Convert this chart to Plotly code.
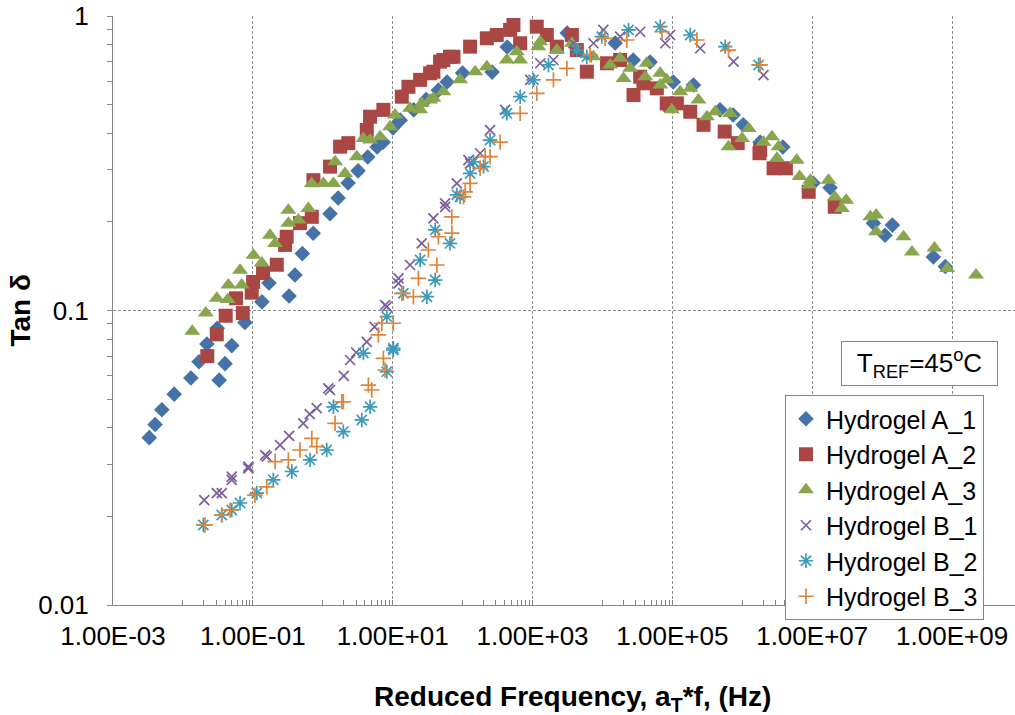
import plotly.graph_objects as go

# ---- data (reduced frequency in Hz, tan delta) ----
a1_f = [3.3e-3, 4.0e-3, 5.0e-3, 7.5e-3, 1.3e-2, 1.7e-2, 2.2e-2, 3.1e-2, 3.3e-2, 4.0e-2, 5.0e-2, 7.7e-2,
        0.135, 0.17, 0.33, 0.40, 0.51, 0.73, 1.27, 1.66, 2.3, 3.2, 4.4, 6.0, 7.3, 10.1, 12.8, 20, 30, 45,
        60, 100, 264, 434, 3130, 1.52e4, 2.75e4, 4.8e4, 1.03e5, 2.0e5, 4.8e5, 7.4e5, 1.03e6, 1.8e6, 3.8e6,
        1.03e7, 1.8e7, 7.5e7, 1.1e8, 1.4e8, 5.4e8, 8.0e8]
a1_t = [0.037, 0.041, 0.046, 0.052, 0.059, 0.067, 0.077, 0.087, 0.058, 0.066, 0.076, 0.091,
        0.107, 0.124, 0.112, 0.132, 0.156, 0.183, 0.213, 0.241, 0.271, 0.298, 0.332, 0.359, 0.373, 0.417,
        0.443, 0.48, 0.52, 0.56, 0.597, 0.64, 0.645, 0.785, 0.876, 0.81, 0.709, 0.698, 0.597, 0.583, 0.48,
        0.461, 0.427, 0.373, 0.359, 0.271, 0.261, 0.198, 0.180, 0.195, 0.152, 0.141]

a2_f = [0.0223, 0.0305, 0.0409, 0.0575, 0.0718, 0.0964, 0.101, 0.140, 0.220, 0.289, 0.305, 0.473,
        0.697, 0.735, 1.27, 1.77, 2.32, 4.26, 4.75, 7.36, 13.5, 16.8, 24.7, 34.3, 38.2, 47.6, 53, 66, 74,
        128, 222, 308, 478, 533, 665, 1150, 1600, 2230, 3650, 4300, 5980, 1.16e4, 1.79e4, 2.78e4, 3.46e4,
        3.86e4, 6.0e4, 8.3e4, 9.3e4, 1.16e5, 1.8e5, 2.79e5, 5.6e5, 8.6e5, 1.76e6, 1.8e6, 2.8e6, 4.2e6,
        8.9e6, 2.1e7]
a2_t = [0.070, 0.083, 0.096, 0.110, 0.098, 0.115, 0.125, 0.134, 0.143, 0.167, 0.178, 0.198,
        0.208, 0.277, 0.308, 0.360, 0.370, 0.410, 0.455, 0.480, 0.532, 0.575, 0.607, 0.639, 0.647, 0.700,
        0.709, 0.727, 0.727, 0.787, 0.840, 0.862, 0.897, 0.932, 0.808, 0.920, 0.862, 0.787, 0.862, 0.766,
        0.647, 0.691, 0.709, 0.539, 0.622, 0.591, 0.568, 0.505, 0.499, 0.505, 0.473, 0.427, 0.405, 0.370,
        0.342, 0.351, 0.304, 0.304, 0.253, 0.225]

a3_f = [0.0136, 0.0212, 0.0305, 0.0438, 0.0447, 0.0693, 0.0656, 0.102, 0.134, 0.176, 0.208, 0.322,
        0.322, 0.448, 0.622, 0.697, 1.02, 1.42, 1.50, 2.08, 3.06, 3.81, 4.75, 6.6, 9.2, 10.8, 17.7, 24.7,
        26, 34.3, 38.2, 53, 92, 151, 222, 429, 596, 665, 1210, 1290, 2230, 3650, 7430, 1.29e4, 1.79e4,
        2.0e4, 2.49e4, 4.1e4, 4.3e4, 6.7e4, 6.7e4, 8.3e4, 9.8e4, 1.29e5, 1.8e5, 2.36e5, 3.12e5, 4.1e5,
        6.35e5, 6.7e5, 9.9e5, 1.23e6, 2.01e6, 2.65e6, 3.13e6, 3.3e6, 6.0e6, 6.6e6, 9.0e6, 9.4e6, 1.71e7,
        2.1e7, 2.66e7, 3.06e7, 6.8e7, 8.2e7, 8.2e7, 2.02e8, 2.67e8, 5.6e8, 8.5e8, 2.2e9]
a3_t = [0.085, 0.098, 0.110, 0.109, 0.122, 0.122, 0.137, 0.154, 0.145, 0.180, 0.169, 0.219,
        0.198, 0.203, 0.222, 0.270, 0.270, 0.270, 0.320, 0.292, 0.333, 0.384, 0.379, 0.389, 0.421, 0.461,
        0.486, 0.480, 0.505, 0.519, 0.526, 0.553, 0.607, 0.647, 0.673, 0.709, 0.756, 0.709, 0.787, 0.818,
        0.766, 0.808, 0.727, 0.682, 0.718, 0.614, 0.664, 0.622, 0.691, 0.639, 0.583, 0.607, 0.480, 0.553,
        0.568, 0.519, 0.455, 0.473, 0.360, 0.467, 0.384, 0.415, 0.373, 0.389, 0.329, 0.360, 0.324, 0.285,
        0.267, 0.277, 0.277, 0.243, 0.222, 0.237, 0.208, 0.211, 0.185, 0.178, 0.158, 0.163, 0.139, 0.132]

b1_f = [0.0202, 0.0305, 0.0359, 0.0499, 0.0499, 0.0863, 0.0863, 0.150, 0.158, 0.245, 0.33, 0.527,
        0.65, 0.82, 1.20, 1.27, 2.0, 2.46, 3.0, 4.26, 5.5, 7.78, 8.24, 12.1, 12.1, 17.7, 26, 38.2, 56.2,
        56.2, 82.6, 121, 128, 178, 247, 406, 925, 1290, 1990, 3850, 7430, 1.03e4, 1.79e4, 3.46e4, 7.9e4,
        9.3e4, 2.5e5, 7.5e5, 2.01e6]
b1_t = [0.0227, 0.0240, 0.0240, 0.0266, 0.0273, 0.0291, 0.0295, 0.0323, 0.0319, 0.0349, 0.0375, 0.0414,
        0.0445, 0.0466, 0.0544, 0.0537, 0.0600, 0.0679, 0.0720, 0.0783, 0.0880, 0.1044, 0.103, 0.1237,
        0.1286, 0.1427, 0.169, 0.2056, 0.225, 0.231, 0.270, 0.324, 0.316, 0.342, 0.410, 0.480, 0.607,
        0.691, 0.709, 0.808, 0.808, 0.897, 0.851, 0.884, 0.808, 0.862, 0.777, 0.700, 0.630]

b2_f = [0.0196, 0.0359, 0.0499, 0.0656, 0.114, 0.196, 0.361, 0.658, 1.14, 1.42, 1.97, 3.61, 3.81, 4.75,
        8.24, 8.24, 10.2, 10.2, 14.2, 24.7, 30.8, 40.5, 40.5, 66, 82.6, 92, 128, 143, 199, 247, 429, 665,
        1030, 1690, 4300, 5980, 9800, 2.36e4, 6.7e4, 1.8e5, 5.7e5, 1.71e6]
b2_t = [0.0187, 0.0202, 0.0210, 0.0222, 0.0240, 0.0266, 0.0284, 0.0311, 0.0336, 0.0471, 0.0388, 0.0425,
        0.0717, 0.0471, 0.0953, 0.0620, 0.0744, 0.0734, 0.1144, 0.1484, 0.1114, 0.1269, 0.1877, 0.169,
        0.247, 0.2433, 0.292, 0.320, 0.308, 0.379, 0.467, 0.532, 0.607, 0.682, 0.766, 0.727, 0.851, 0.897,
        0.920, 0.862, 0.787, 0.682]

b3_f = [0.0207, 0.0359, 0.0472, 0.107, 0.158, 0.208, 0.322, 0.473, 0.697, 0.82, 1.50, 1.87, 1.97, 4.49,
        5.02, 6.24, 6.98, 7.36, 7.78, 10.2, 13.5, 19.8, 23.3, 32.4, 42.8, 45.1, 70.1, 70.1, 103, 109, 128,
        178, 210, 247, 344, 665, 1150, 1990, 3100, 6670, 1.09e4, 2.23e4, 7.1e4, 2.24e5, 6.35e5, 1.8e6]
b3_t = [0.0187, 0.0202, 0.0210, 0.0236, 0.0252, 0.0307, 0.0311, 0.0336, 0.0368, 0.0345, 0.0414, 0.0490,
        0.0490, 0.0558, 0.0537, 0.0826, 0.0905, 0.0688, 0.0628, 0.0905, 0.1144, 0.1114, 0.1286, 0.1605,
        0.1427, 0.178, 0.183, 0.208, 0.2433, 0.253, 0.270, 0.304, 0.333, 0.333, 0.373, 0.467, 0.546, 0.607,
        0.664, 0.737, 0.840, 0.829, 0.884, 0.829, 0.766, 0.682]

series_names = ["Hydrogel A_1", "Hydrogel A_2", "Hydrogel A_3",
                "Hydrogel B_1", "Hydrogel B_2", "Hydrogel B_3"]

x_tick_vals = [1e-3, 1e-1, 1e1, 1e3, 1e5, 1e7, 1e9]
x_tick_text = ["1.00E-03", "1.00E-01", "1.00E+01", "1.00E+03", "1.00E+05", "1.00E+07", "1.00E+09"]
y_tick_vals = [0.01, 0.1, 1]
y_tick_text = ["0.01", "0.1", "1"]

# ---- styling ----
FONT = "Liberation Sans, Arial, sans-serif"
GRID = "#8c8c8c"
AXIS = "#868686"
styles = [
    dict(symbol="diamond", size=12, color="#4572A7"),
    dict(symbol="square", size=14, color="#AA4643"),
    dict(symbol="triangle-up", size=14, color="#89A54E"),
    dict(symbol="x-thin", size=10, color="rgba(0,0,0,0)", line=dict(color="#7B5E9E", width=1.7)),
    dict(symbol="asterisk", size=12, color="rgba(0,0,0,0)", line=dict(color="#3D9BB8", width=1.7)),
    dict(symbol="cross-thin", size=11, color="rgba(0,0,0,0)", line=dict(color="#E0843A", width=1.7)),
]
data = [(a1_f, a1_t), (a2_f, a2_t), (a3_f, a3_t), (b1_f, b1_t), (b2_f, b2_t), (b3_f, b3_t)]

fig = go.Figure()
for name, (fx, ty), st in zip(series_names, data, styles):
    fig.add_trace(go.Scatter(x=fx, y=ty, mode="markers", name=name, marker=st))

x_minor = [m * 10.0 ** e for e in (-2, 0, 2, 4, 6, 8) for m in range(1, 10)]
y_minor = [m * 10.0 ** e for e in (-2, -1) for m in range(2, 10)]

fig.update_layout(
    width=1015, height=715,
    margin=dict(l=113, r=0, t=16, b=110, autoexpand=False),
    paper_bgcolor="white", plot_bgcolor="white",
    font=dict(family=FONT, size=26, color="black"),
    showlegend=True,
    legend=dict(x=0.745, y=0.3565, xanchor="left", yanchor="top",
                bgcolor="white", bordercolor=AXIS, borderwidth=1,
                font=dict(family=FONT, size=25), tracegroupgap=0, itemwidth=30),
    xaxis=dict(type="log", range=[-3, 9.9], tickmode="array", tickvals=x_tick_vals, ticktext=x_tick_text,
               showgrid=True, gridcolor=GRID, griddash="3px,2px", gridwidth=1,
               showline=True, linecolor=AXIS, linewidth=1, mirror=False, automargin=False,
               ticks="inside", ticklen=5, tickcolor=AXIS, ticklabelstandoff=8,
               minor=dict(tickmode="array", tickvals=x_minor, ticks="inside", ticklen=5,
                          tickcolor=AXIS, showgrid=False),
               zeroline=False, tickfont=dict(size=26)),
    yaxis=dict(type="log", range=[-2, 0], tickmode="array", tickvals=y_tick_vals, ticktext=y_tick_text,
               showgrid=True, gridcolor=GRID, griddash="3px,2px", gridwidth=1,
               showline=True, linecolor=AXIS, linewidth=1, automargin=False,
               ticks="outside", ticklen=5, tickcolor=AXIS, ticklabelstandoff=13,
               minor=dict(tickmode="array", tickvals=y_minor, ticks="outside", ticklen=5,
                          tickcolor=AXIS, showgrid=False),
               zeroline=False, tickfont=dict(size=26)),
)

fig.add_annotation(text="<b>Reduced Frequency, a<sub>T</sub>*f, (Hz)</b>",
                   xref="paper", yref="paper", x=0.509, y=-0.159, xanchor="center", yanchor="middle",
                   showarrow=False, font=dict(family=FONT, size=28, color="black"))
fig.add_annotation(text="<b>Tan δ</b>", textangle=-90,
                   xref="paper", yref="paper", x=-0.102, y=0.5, xanchor="center", yanchor="middle",
                   showarrow=False, font=dict(family=FONT, size=28, color="black"))
fig.add_annotation(text="T<sub>REF</sub>=45<sup>o</sup>C",
                   xref="paper", yref="paper", x=0.8936, y=0.4092, xanchor="center", yanchor="middle",
                   showarrow=False, font=dict(family=FONT, size=26, color="black"),
                   bgcolor="white", bordercolor=AXIS, borderwidth=1, borderpad=0, width=155, height=43)

fig.write_html("out.html", config={"displayModeBar": False},
               post_script="document.body.style.margin='0';document.body.style.padding='0';")
